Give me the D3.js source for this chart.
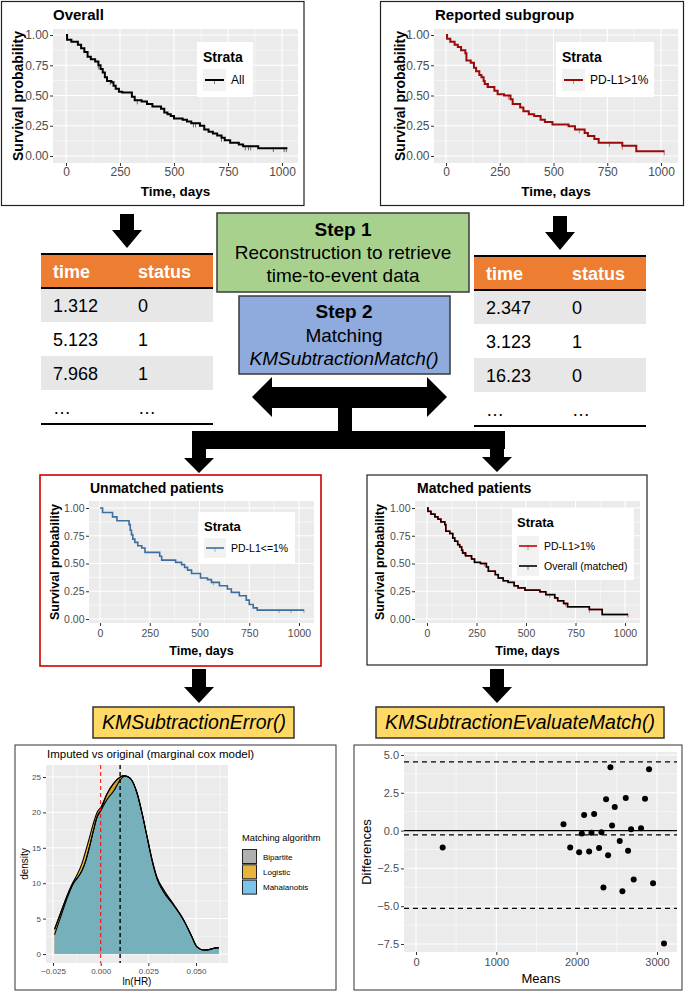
<!DOCTYPE html>
<html><head><meta charset="utf-8">
<script src="https://cdn.jsdelivr.net/npm/d3@7"></script>
<style>
body{margin:0;background:#fff}
svg{display:block}
text{font-family:"Liberation Sans",Arial,Helvetica,sans-serif}
</style></head>
<body><svg id="c" width="686" height="992"></svg>
<script>
// ---------------- DATA ----------------
const kmTicksX = [0, 250, 500, 750, 1000];
const kmMinorX = [125, 375, 625, 875];
const kmTicksY = [0, 0.25, 0.5, 0.75, 1];
const kmMinorY = [0.125, 0.375, 0.625, 0.875];

const overallTime = [0,5,25,55,70,85,100,115,135,150,160,170,180,190,210,220,230,245,260,305,318,350,375,400,440,455,470,485,500,540,560,580,620,640,660,680,700,720,735,760,800,820,890,1025];
const overallSurv = [1,0.96,0.945,0.92,0.89,0.86,0.82,0.80,0.78,0.75,0.72,0.69,0.65,0.62,0.61,0.58,0.555,0.53,0.525,0.49,0.46,0.45,0.43,0.41,0.39,0.36,0.345,0.33,0.31,0.30,0.285,0.27,0.25,0.22,0.20,0.185,0.17,0.15,0.13,0.11,0.095,0.08,0.065,0.065];
const overallCensor = [150,205,330,590,600,720,830,845,855,960,1010,1020];

const reportedTime = [0,5,20,40,55,70,90,95,115,130,140,155,165,175,180,195,225,240,270,300,310,345,360,385,410,440,460,495,570,600,645,660,690,710,820,885,1015];
const reportedSurv = [1,0.97,0.945,0.92,0.90,0.875,0.85,0.79,0.77,0.73,0.70,0.67,0.65,0.62,0.595,0.57,0.54,0.51,0.50,0.47,0.43,0.40,0.37,0.345,0.33,0.30,0.28,0.26,0.245,0.22,0.19,0.165,0.14,0.11,0.085,0.04,0.04];
const reportedCensor = [190,290,620,760,820,1015];

const unmatchedTime = [0,13,63,85,146,152,158,165,175,190,210,226,300,310,380,410,425,440,460,505,540,560,600,640,660,700,735,750,770,790,1025];
const unmatchedSurv = [1,0.96,0.92,0.885,0.85,0.80,0.76,0.72,0.69,0.66,0.64,0.60,0.565,0.53,0.51,0.49,0.465,0.44,0.41,0.37,0.355,0.33,0.30,0.27,0.24,0.21,0.17,0.13,0.10,0.08,0.08];
const unmatchedCensor = [570,900,960,1025];

const matchedTime = [0,5,20,40,55,70,90,95,115,130,140,155,165,175,180,195,225,240,270,300,310,345,360,385,410,440,460,495,570,600,645,660,690,710,820,885,1015];
const matchedSurv = [1,0.97,0.945,0.92,0.90,0.875,0.85,0.79,0.77,0.73,0.70,0.67,0.65,0.62,0.595,0.57,0.54,0.51,0.50,0.47,0.43,0.40,0.37,0.345,0.33,0.30,0.28,0.26,0.245,0.22,0.19,0.165,0.14,0.11,0.085,0.04,0.04];
const matchedCensor = [190,290,620,700,820,1015];

const leftTimes = ["1.312","5.123","7.968","\u2026"];
const leftStatus = ["0","1","1","\u2026"];
const rightTimes = ["2.347","3.123","16.23","\u2026"];
const rightStatus = ["0","1","0","\u2026"];

const densX   = [-0.0242,-0.021,-0.0177,-0.0155,-0.0138,-0.012,-0.0098,-0.0078,-0.0058,-0.004,-0.0019,0,0.0033,0.0068,0.0103,0.0125,0.0145,0.0164,0.0191,0.0217,0.0243,0.0269,0.0295,0.033,0.0383,0.0435,0.0479,0.0505,0.054,0.0575,0.0593,0.062];
const densBip = [3.5,5.8,8.1,9.4,10.2,10.8,11.8,13.2,15.2,17.2,19.4,20.3,22.6,24.1,25.0,25.2,25.0,24.5,22.7,19.9,16.6,13.3,10.7,8.8,6.9,4.8,2.4,1.0,0.56,0.65,0.8,0.9];
const densLog = [3.5,5.8,8.2,9.6,10.5,11.4,12.8,14.6,16.5,18.3,20.0,20.7,22.6,24.1,25.0,25.2,25.0,24.5,22.7,19.9,16.6,13.4,10.9,9.1,7.0,4.8,2.4,1.0,0.56,0.65,0.8,0.9];
const densMah = [2.7,5.2,7.8,9.3,10.2,10.8,11.8,13.2,15.2,17.2,19.3,20.2,21.8,23.0,24.6,25.1,25.0,24.5,22.7,19.9,16.6,13.3,10.7,8.8,6.9,4.8,2.4,1.0,0.56,0.65,0.8,0.9];
const densGroups = ["Bipartite","Logistic","Mahalanobis"];
const densColors = ["#999999","#E69F00","#56B4E9"];
const densTicksX = [-0.025, 0, 0.025, 0.05];
const densMinorX = [-0.0125, 0.0125, 0.0375, 0.0625];
const densTicksY = [0,5,10,15,20,25];
const densMinorY = [2.5,7.5,12.5,17.5,22.5];
const densRefLines = [0, 0.0102];

const baMeans = [332,1836,1919,2031,2064,2093,2155,2184,2217,2279,2308,2333,2366,2391,2420,2441,2474,2536,2569,2611,2640,2677,2710,2801,2851,2901,2951,3087];
const baDiffs = [-1.12,0.42,-1.12,-1.43,-0.2,1.04,-1.39,-0.15,1.10,-1.15,-0.11,-3.77,2.07,-1.63,4.19,0.33,1.56,-0.68,-4.01,2.16,-1.34,0.09,-3.24,0.15,2.11,4.05,-3.48,-7.47];
const baTicksX = [0,1000,2000,3000];
const baMinorX = [500,1500,2500];
const baTicksY = [-7.5,-5,-2.5,0,2.5,5];
const baMinorY = [-6.25,-3.75,-1.25,1.25,3.75];
const baLimits = [4.55,-0.28,-5.15];

// ---------------- DRAW ----------------
const svg = d3.select("#c");
const FONT = '"Liberation Sans",Arial,Helvetica,sans-serif';

function txt(g, s, x, y, o = {}) {
  const t = g.append("text").attr("x", x).attr("y", y).text(s)
    .style("font-family", FONT)
    .style("font-size", (o.size || 12) + "px")
    .style("font-weight", o.bold ? "bold" : "normal")
    .style("font-style", o.italic ? "italic" : "normal")
    .attr("fill", o.fill || "#000")
    .attr("text-anchor", o.anchor || "start");
  if (o.rotate) t.attr("transform", `rotate(-90,${x},${y})`);
  return t;
}
function poly(pts) {
  svg.append("path").attr("d", "M" + pts.map(p => p.join(",")).join("L") + "Z").attr("fill", "#000");
}
function downArrow(cx, yTop, yHead, yTip) {
  poly([[cx-7,yTop],[cx+7,yTop],[cx+7,yHead],[cx+15,yHead],[cx,yTip],[cx-15,yHead],[cx-7,yHead]]);
}
function styleAxis(ax, size, color) {
  ax.select(".domain").remove();
  ax.selectAll(".tick line").attr("stroke", "#333").attr("stroke-width", 1);
  ax.selectAll(".tick text").attr("fill", color || "#4D4D4D").style("font-size", size + "px").style("font-family", FONT);
}
function survAt(time, surv, t) {
  let s = surv[0];
  for (let i = 0; i < time.length; i++) if (time[i] <= t) s = surv[i];
  return s;
}

function kmPanel(c) {
  const g = svg.append("g");
  g.append("rect").attr("x", c.box[0]).attr("y", c.box[1]).attr("width", c.box[2]).attr("height", c.box[3])
    .attr("fill", "#fff").attr("stroke", c.boxStroke).attr("stroke-width", c.boxSW);
  const P = c.panel;
  const x = d3.scaleLinear().domain([0, 1000]).range([c.x0, c.x1]);
  const y = d3.scaleLinear().domain([0, 1]).range([c.y0, c.y1]);
  g.append("rect").attr("x", P[0]).attr("y", P[1]).attr("width", P[2]-P[0]).attr("height", P[3]-P[1]).attr("fill", "#EBEBEB");
  g.selectAll(null).data(kmMinorX).join("line").attr("x1", d => x(d)).attr("x2", d => x(d)).attr("y1", P[1]).attr("y2", P[3]).attr("stroke", "#fff").attr("stroke-width", 0.55);
  g.selectAll(null).data(kmMinorY).join("line").attr("y1", d => y(d)).attr("y2", d => y(d)).attr("x1", P[0]).attr("x2", P[2]).attr("stroke", "#fff").attr("stroke-width", 0.55);
  g.selectAll(null).data(kmTicksX).join("line").attr("x1", d => x(d)).attr("x2", d => x(d)).attr("y1", P[1]).attr("y2", P[3]).attr("stroke", "#fff").attr("stroke-width", 1.1);
  g.selectAll(null).data(kmTicksY).join("line").attr("y1", d => y(d)).attr("y2", d => y(d)).attr("x1", P[0]).attr("x2", P[2]).attr("stroke", "#fff").attr("stroke-width", 1.1);
  const line = d3.line().x(d => x(d[0])).y(d => y(d[1])).curve(d3.curveStepAfter);
  c.series.forEach(s => {
    g.selectAll(null).data(s.censor).join("line")
      .attr("x1", d => x(d)).attr("x2", d => x(d))
      .attr("y1", d => y(survAt(s.time, s.surv, d)) - 1).attr("y2", d => y(survAt(s.time, s.surv, d)) + c.cens)
      .attr("stroke", s.color).attr("stroke-opacity", 0.55).attr("stroke-width", 1);
    g.append("path").datum(d3.zip(s.time, s.surv)).attr("d", line).attr("fill", "none")
      .attr("stroke", s.color).attr("stroke-width", s.width);
  });
  const ay = g.append("g").attr("transform", `translate(${P[0]},0)`)
    .call(d3.axisLeft(y).tickValues(kmTicksY).tickFormat(d3.format(".2f")).tickSize(3).tickPadding(c.tickPad));
  styleAxis(ay, c.tickFS);
  const ax = g.append("g").attr("transform", `translate(0,${P[3]})`)
    .call(d3.axisBottom(x).tickValues(kmTicksX).tickFormat(d3.format("d")).tickSize(3).tickPadding(c.xTickPad));
  styleAxis(ax, c.tickFS);
  txt(g, c.title, c.titleX, c.titleY, {size: c.titleFS, bold: true});
  txt(g, "Survival probability", c.yLabX, (P[1]+P[3])/2, {size: c.labFS, bold: true, anchor: "middle", rotate: true});
  txt(g, "Time, days", (P[0]+P[2])/2, c.xLabY, {size: c.labFS2, bold: true, anchor: "middle"});
  const L = c.legend;
  g.append("rect").attr("x", L.box[0]).attr("y", L.box[1]).attr("width", L.box[2]).attr("height", L.box[3]).attr("fill", "#fff");
  txt(g, "Strata", L.box[0] + L.pad, L.titleY, {size: L.titleFS, bold: true});
  L.items.forEach(it => {
    g.append("rect").attr("x", L.box[0] + L.pad).attr("y", it.y - L.keyH/2).attr("width", L.keyW).attr("height", L.keyH).attr("fill", "#F2F2F2");
    g.append("line").attr("x1", L.box[0] + L.pad + 2).attr("x2", L.box[0] + L.pad + L.keyW - 2).attr("y1", it.y).attr("y2", it.y)
      .attr("stroke", it.color).attr("stroke-width", c.series[0].width);
    g.append("line").attr("x1", L.box[0] + L.pad + L.keyW/2).attr("x2", L.box[0] + L.pad + L.keyW/2).attr("y1", it.y).attr("y2", it.y + 4)
      .attr("stroke", it.color).attr("stroke-opacity", 0.6).attr("stroke-width", 0.8);
    txt(g, it.label, L.box[0] + L.pad + L.keyW + 5, it.y + L.labFS*0.36, {size: L.labFS});
  });
}

// top panels
kmPanel({box:[1.5,1.5,302.5,204], boxStroke:"#222", boxSW:1.2, panel:[53,29,298,163], x0:66, x1:282, y0:156, y1:35,
  tickFS:12, tickPad:1.5, xTickPad:1.5, title:"Overall", titleX:53, titleY:20, titleFS:15, yLabX:23, labFS:14, labFS2:13.5, xLabY:196, cens:4,
  series:[{time:overallTime, surv:overallSurv, censor:overallCensor, color:"#000", width:2}],
  legend:{box:[197,42,56,55], pad:6, titleY:62, titleFS:14, keyW:23, keyH:22, labFS:12, items:[{label:"All", color:"#000", y:80}]}});
kmPanel({box:[380.5,1.5,303,204], boxStroke:"#222", boxSW:1.2, panel:[434,29,678,163], x0:446, x1:661, y0:156, y1:35,
  tickFS:12, tickPad:1.5, xTickPad:1.5, title:"Reported subgroup", titleX:435, titleY:20, titleFS:15, yLabX:405, labFS:14, labFS2:13.5, xLabY:196, cens:4,
  series:[{time:reportedTime, surv:reportedSurv, censor:reportedCensor, color:"#9B0A0A", width:2}],
  legend:{box:[556,42,98,55], pad:6, titleY:62, titleFS:14, keyW:23, keyH:22, labFS:12, items:[{label:"PD-L1>1%", color:"#9B0A0A", y:80}]}});
// middle panels
kmPanel({box:[40,475,281,191], boxStroke:"#CC0000", boxSW:1.6, panel:[89,501,314,623], x0:100, x1:299, y0:619, y1:508,
  tickFS:10.5, tickPad:1.5, xTickPad:4, title:"Unmatched patients", titleX:90, titleY:493, titleFS:14, yLabX:59, labFS:12.5, labFS2:12.5, xLabY:655, cens:3,
  series:[{time:unmatchedTime, surv:unmatchedSurv, censor:unmatchedCensor, color:"#3E6E9E", width:1.6}],
  legend:{box:[198,512,97,52], pad:6, titleY:531, titleFS:13, keyW:22, keyH:20, labFS:10.5, items:[{label:"PD-L1<=1%", color:"#3E6E9E", y:548}]}});
kmPanel({box:[367,475,280,190], boxStroke:"#222", boxSW:1.2, panel:[415,501,640,623], x0:427, x1:625, y0:619, y1:508,
  tickFS:10.5, tickPad:1.5, xTickPad:4, title:"Matched patients", titleX:417, titleY:493, titleFS:14, yLabX:384, labFS:12.5, labFS2:12.5, xLabY:655, cens:3,
  series:[{time:matchedTime, surv:matchedSurv, censor:matchedCensor, color:"#C00000", width:1.6},
          {time:reportedTime, surv:reportedSurv, censor:[], color:"#000", width:1.4}],
  legend:{box:[512,508,122,72], pad:5, titleY:527, titleFS:13, keyW:22, keyH:20, labFS:10.5,
    items:[{label:"PD-L1>1%", color:"#C00000", y:546},{label:"Overall (matched)", color:"#000", y:566}]}});

// tables
function table(x0, x1, yTop, c1, c2, col1, col2) {
  const rowH = 34;
  svg.append("rect").attr("x", x0).attr("y", yTop).attr("width", x1-x0).attr("height", rowH).attr("fill", "#ED7D31");
  [0,2].forEach(i => svg.append("rect").attr("x", x0).attr("y", yTop + rowH*(i+1)).attr("width", x1-x0).attr("height", rowH).attr("fill", "#E7E7E7"));
  [yTop, yTop+rowH, yTop+rowH*5].forEach(yy => svg.append("line").attr("x1", x0).attr("x2", x1).attr("y1", yy).attr("y2", yy).attr("stroke", "#000").attr("stroke-width", 2));
  txt(svg, "time", c1, yTop + rowH/2 + 6.5, {size: 18, bold: true, fill: "#fff"});
  txt(svg, "status", c2, yTop + rowH/2 + 6.5, {size: 18, bold: true, fill: "#fff"});
  col1.forEach((v, i) => {
    txt(svg, v, c1, yTop + rowH*(i+1) + rowH/2 + 6.5, {size: 18});
    txt(svg, col2[i], c2, yTop + rowH*(i+1) + rowH/2 + 6.5, {size: 18});
  });
}
table(41, 213, 254, 53, 138, leftTimes, leftStatus);
table(474, 646, 256, 486, 572, rightTimes, rightStatus);

// step boxes
svg.append("rect").attr("x", 217).attr("y", 213).attr("width", 252).attr("height", 79).attr("fill", "#A9D18E").attr("stroke", "#3a3a3a").attr("stroke-width", 1.5);
txt(svg, "Step 1", 343, 236, {size: 19, bold: true, anchor: "middle"});
txt(svg, "Reconstruction to retrieve", 343, 259, {size: 19, anchor: "middle"});
txt(svg, "time-to-event data", 343, 282, {size: 19, anchor: "middle"});
svg.append("rect").attr("x", 239).attr("y", 296).attr("width", 211).attr("height", 78).attr("fill", "#8FAADC").attr("stroke", "#3a3a3a").attr("stroke-width", 1.5);
txt(svg, "Step 2", 344, 318, {size: 19, bold: true, anchor: "middle"});
txt(svg, "Matching", 344, 342, {size: 19, anchor: "middle"});
txt(svg, "KMSubtractionMatch()", 344, 365, {size: 19, italic: true, anchor: "middle"});

// arrows
downArrow(127, 214, 230, 248);
downArrow(560, 216, 232, 250);
poly([[252,397],[272,377],[272,387],[427,387],[427,377],[447,397],[427,417],[427,408],[272,408],[272,417]]);
svg.append("rect").attr("x", 338).attr("y", 405).attr("width", 14).attr("height", 28).attr("fill", "#000");
svg.append("rect").attr("x", 192).attr("y", 431).attr("width", 313).attr("height", 18).attr("fill", "#000");
downArrow(199, 445, 458, 473);
downArrow(497, 445, 457, 472);
downArrow(199, 669, 687, 703);
downArrow(497, 669, 687, 703);

// yellow function boxes
svg.append("rect").attr("x", 93).attr("y", 707).attr("width", 201).attr("height", 31).attr("fill", "#FFD966").attr("stroke", "#333").attr("stroke-width", 1.5);
txt(svg, "KMSubtractionError()", 194, 729, {size: 19.5, italic: true, anchor: "middle"});
svg.append("rect").attr("x", 376).attr("y", 707).attr("width", 288).attr("height", 31).attr("fill", "#FFD966").attr("stroke", "#333").attr("stroke-width", 1.5);
txt(svg, "KMSubtractionEvaluateMatch()", 520, 729, {size: 19.5, italic: true, anchor: "middle"});

// density plot
(function() {
  const g = svg.append("g");
  g.append("rect").attr("x", 15).attr("y", 745).attr("width", 321).attr("height", 245).attr("fill", "#fff").attr("stroke", "#333").attr("stroke-width", 1);
  const P = [46,765,228,963];
  const x = d3.scaleLinear().domain([-0.025, 0.05]).range([53, 196]);
  const y = d3.scaleLinear().domain([0, 25]).range([954, 777]);
  g.append("rect").attr("x", P[0]).attr("y", P[1]).attr("width", P[2]-P[0]).attr("height", P[3]-P[1]).attr("fill", "#EBEBEB");
  g.selectAll(null).data(densMinorX).join("line").attr("x1", d => x(d)).attr("x2", d => x(d)).attr("y1", P[1]).attr("y2", P[3]).attr("stroke", "#fff").attr("stroke-width", 0.5);
  g.selectAll(null).data(densMinorY).join("line").attr("y1", d => y(d)).attr("y2", d => y(d)).attr("x1", P[0]).attr("x2", P[2]).attr("stroke", "#fff").attr("stroke-width", 0.5);
  g.selectAll(null).data(densTicksX).join("line").attr("x1", d => x(d)).attr("x2", d => x(d)).attr("y1", P[1]).attr("y2", P[3]).attr("stroke", "#fff").attr("stroke-width", 1);
  g.selectAll(null).data(densTicksY).join("line").attr("y1", d => y(d)).attr("y2", d => y(d)).attr("x1", P[0]).attr("x2", P[2]).attr("stroke", "#fff").attr("stroke-width", 1);
  const series = [densBip, densLog, densMah];
  const area = d3.area().x(d => x(d[0])).y0(y(0)).y1(d => y(d[1])).curve(d3.curveMonotoneX);
  const ln = d3.line().x(d => x(d[0])).y(d => y(d[1])).curve(d3.curveMonotoneX);
  series.forEach((s, i) => {
    g.append("path").datum(d3.zip(densX, s)).attr("d", area).attr("fill", densColors[i]).attr("fill-opacity", 0.75);
  });
  series.forEach((s, i) => {
    g.append("path").datum(d3.zip(densX, s)).attr("d", ln).attr("fill", "none").attr("stroke", "#000").attr("stroke-width", 1.1);
  });
  g.selectAll(null).data(densRefLines).join("line").attr("x1", d => x(d)).attr("x2", d => x(d)).attr("y1", P[1]).attr("y2", P[3])
    .attr("stroke", (d, i) => i === 0 ? "#FF0000" : "#000").attr("stroke-width", (d, i) => i === 0 ? 1 : 1.4).attr("stroke-dasharray", "4,3");
  const ay = g.append("g").attr("transform", `translate(${P[0]},0)`).call(d3.axisLeft(y).tickValues(densTicksY).tickSize(3).tickPadding(2));
  styleAxis(ay, 8);
  const ax = g.append("g").attr("transform", `translate(0,${P[3]})`).call(d3.axisBottom(x).tickValues(densTicksX).tickFormat(d3.format(".3f")).tickSize(3).tickPadding(2));
  styleAxis(ax, 8);
  txt(g, "Imputed vs original (marginal cox model)", 47, 758, {size: 11.5});
  txt(g, "density", 28, 864, {size: 10, anchor: "middle", rotate: true});
  txt(g, "ln(HR)", 137, 985, {size: 10, anchor: "middle"});
  txt(g, "Matching algorithm", 242, 841, {size: 9.3});
  densGroups.forEach((name, i) => {
    const ky = 849 + i * 15.3;
    g.append("rect").attr("x", 242).attr("y", ky).attr("width", 15).attr("height", 15).attr("fill", "#F2F2F2");
    g.append("rect").attr("x", 242.5).attr("y", ky + 0.5).attr("width", 14).attr("height", 14).attr("fill", densColors[i]).attr("fill-opacity", 0.75).attr("stroke", "#222").attr("stroke-width", 1);
    txt(g, name, 263, ky + 10.5, {size: 8});
  });
})();

// Bland-Altman plot
(function() {
  const g = svg.append("g");
  g.append("rect").attr("x", 354).attr("y", 745).attr("width", 328).attr("height", 245).attr("fill", "#fff").attr("stroke", "#333").attr("stroke-width", 1);
  const P = [404,752,677,952];
  const x = d3.scaleLinear().domain([0, 3000]).range([416, 657]);
  const y = d3.scaleLinear().domain([-7.5, 5]).range([944, 755]);
  g.append("rect").attr("x", P[0]).attr("y", P[1]).attr("width", P[2]-P[0]).attr("height", P[3]-P[1]).attr("fill", "#EBEBEB");
  g.selectAll(null).data(baMinorX).join("line").attr("x1", d => x(d)).attr("x2", d => x(d)).attr("y1", P[1]).attr("y2", P[3]).attr("stroke", "#fff").attr("stroke-width", 0.5);
  g.selectAll(null).data(baMinorY).join("line").attr("y1", d => y(d)).attr("y2", d => y(d)).attr("x1", P[0]).attr("x2", P[2]).attr("stroke", "#fff").attr("stroke-width", 0.5);
  g.selectAll(null).data(baTicksX).join("line").attr("x1", d => x(d)).attr("x2", d => x(d)).attr("y1", P[1]).attr("y2", P[3]).attr("stroke", "#fff").attr("stroke-width", 1);
  g.selectAll(null).data(baTicksY).join("line").attr("y1", d => y(d)).attr("y2", d => y(d)).attr("x1", P[0]).attr("x2", P[2]).attr("stroke", "#fff").attr("stroke-width", 1);
  g.append("line").attr("x1", P[0]).attr("x2", P[2]).attr("y1", y(0)).attr("y2", y(0)).attr("stroke", "#000").attr("stroke-width", 1.2);
  g.selectAll(null).data(baLimits).join("line").attr("x1", P[0]).attr("x2", P[2]).attr("y1", d => y(d)).attr("y2", d => y(d))
    .attr("stroke", "#000").attr("stroke-width", 1.2).attr("stroke-dasharray", "5,4");
  g.selectAll(null).data(d3.zip(baMeans, baDiffs)).join("circle").attr("cx", d => x(d[0])).attr("cy", d => y(d[1])).attr("r", 3).attr("fill", "#000");
  const ay = g.append("g").attr("transform", `translate(${P[0]},0)`).call(d3.axisLeft(y).tickValues(baTicksY).tickFormat(d3.format(".1f")).tickSize(3).tickPadding(2));
  styleAxis(ay, 11);
  const ax = g.append("g").attr("transform", `translate(0,${P[3]})`).call(d3.axisBottom(x).tickValues(baTicksX).tickFormat(d3.format("d")).tickSize(3).tickPadding(3));
  styleAxis(ax, 11);
  txt(g, "Differences", 371, 852, {size: 13, anchor: "middle", rotate: true});
  txt(g, "Means", 541, 983, {size: 13, anchor: "middle"});
})();
</script>
</body></html>
